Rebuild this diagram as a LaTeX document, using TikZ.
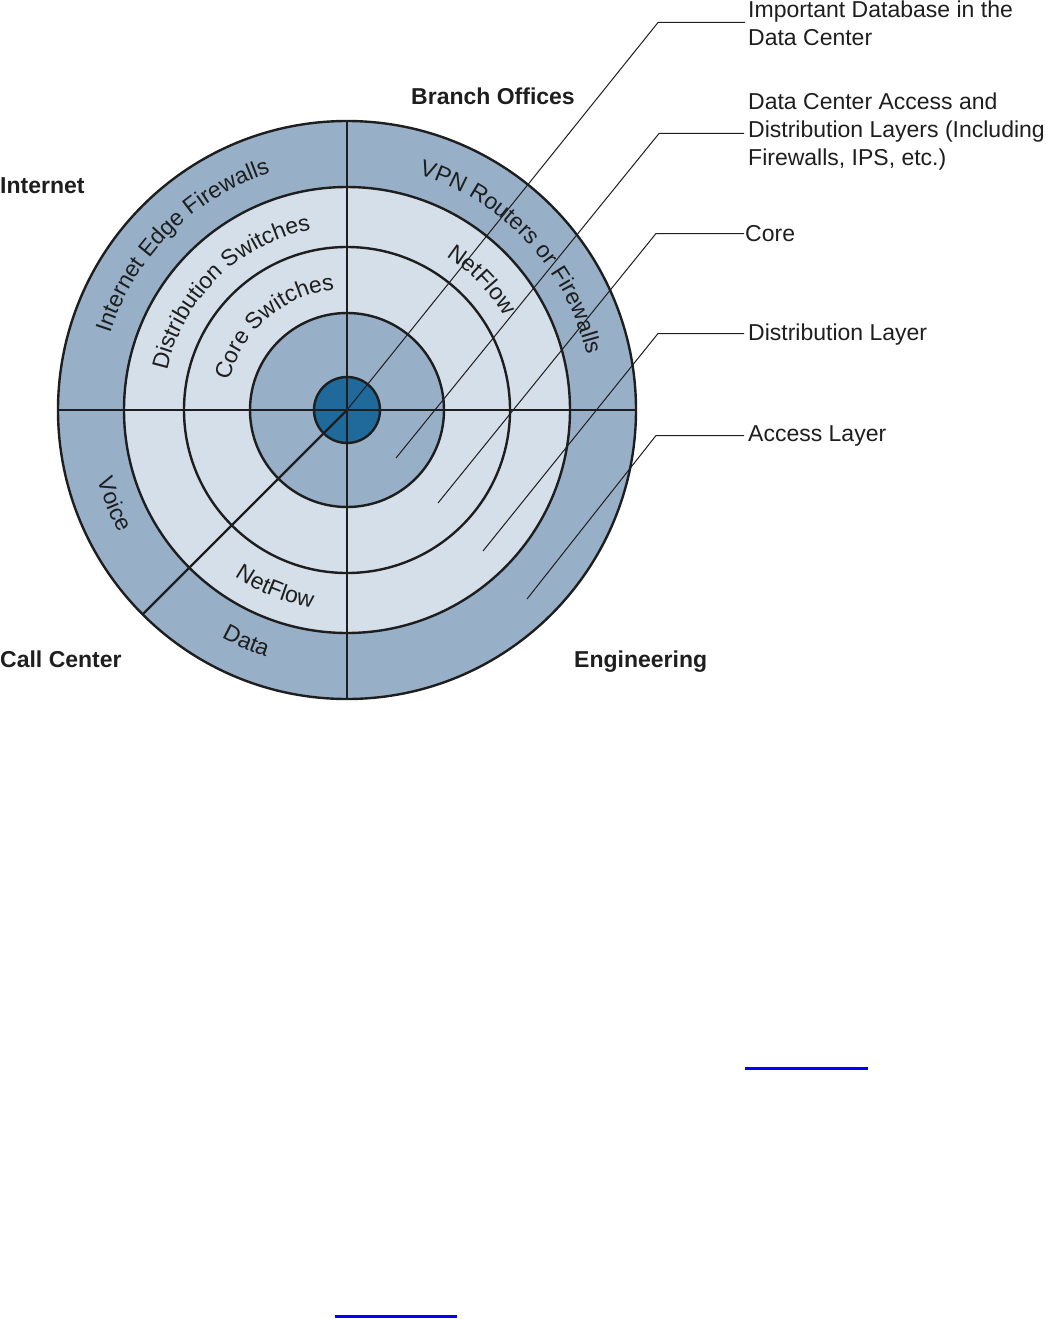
\documentclass[tikz,border=0pt]{standalone}
\usepackage{fontspec}
\setmainfont{Liberation Sans}
\usetikzlibrary{decorations.text}
\definecolor{midblue}{RGB}{151,176,200}
\definecolor{lightblue}{RGB}{213,223,233}
\definecolor{darkblue}{RGB}{31,106,155}
\definecolor{ink}{RGB}{30,30,30}
\definecolor{linkblue}{RGB}{0,0,255}
\newcommand\ringfont{\fontsize{23}{23}\selectfont\color{ink}}
\begin{document}
\begin{tikzpicture}[x=1pt,y=1pt,
  ring/.style={circle, draw=ink, line width=2.4pt, inner sep=0pt, outer sep=0pt, minimum size=#1},
  divider/.style={draw=ink, line width=2.4pt},
  leader/.style={draw=ink, line width=1pt},
  zone/.style={font=\fontsize{23}{28}\selectfont\bfseries, text=ink, inner sep=0pt, anchor=base west},
  layer/.style={font=\fontsize{23}{28}\selectfont, text=ink, inner sep=0pt, align=left, anchor=north west},
  linkline/.style={draw=linkblue, line width=2.2pt},
]
\useasboundingbox (0,0) rectangle (1045,-1319);
\coordinate (C) at (347,-410);
% rings
\node[ring=578, fill=midblue] (r4) at (C) {};
\node[ring=446, fill=lightblue] (r3) at (C) {};
\node[ring=326] (r2) at (C) {};
\node[ring=194, fill=midblue] (r1) at (C) {};
\node[ring=66, fill=darkblue] (r0) at (C) {};
% dividers
\draw[divider] (r4.north) -- (r4.south);
\draw[divider] (r4.west) -- (r4.east);
\draw[divider] (C) -- (r4.225);
% ring texts
\path[decorate, decoration={text along path, text align=center, text={|\ringfont|Internet Edge Firewalls}}]
  (C) ++(180:249) arc[start angle=180, end angle=90, radius=249];
\path[decorate, decoration={text along path, text align=center, text={|\ringfont|Distribution Switches}}]
  (C) ++(180:184) arc[start angle=180, end angle=89, radius=184];
\path[decorate, decoration={text along path, text align=center, text={|\ringfont|Core Switches}}]
  (C) ++(176:121) arc[start angle=176, end angle=86, radius=121];
\path[decorate, decoration={text along path, text align=center, text={|\ringfont|VPN Routers or Firewalls}}]
  (C) ++(88:246) arc[start angle=88, end angle=-2, radius=246];
\path[decorate, decoration={text along path, text align=center, text={|\ringfont|NetFlow}}]
  (C) ++(84:183) arc[start angle=84, end angle=4, radius=183];
\path[decorate, decoration={text along path, text align=center, text={|\ringfont|Voice}}]
  (C) ++(172:259) arc[start angle=172, end angle=232, radius=259];
\path[decorate, decoration={text along path, text align=center, text={|\ringfont|NetFlow}}]
  (C) ++(213:201) arc[start angle=213, end angle=283, radius=201];
\path[decorate, decoration={text along path, text align=center, text={|\ringfont|Data}}]
  (C) ++(221:260) arc[start angle=221, end angle=272, radius=260];
% zone labels
\node[zone] (branch) at (411,-105) {Branch Offices};
\node[zone] (internet) at (0,-193) {Internet};
\node[zone] (callc) at (0,-667) {Call Center};
\node[zone] (eng) at (574,-667) {Engineering};
% layer labels
\node[layer] (dbl) at (748,-0.5) {Important Database in the\\Data Center};
\node[layer] (dcl) at (748,-92.5) {Data Center Access and\\Distribution Layers (Including\\Firewalls, IPS, etc.)};
\node[zone, font=\fontsize{23}{28}\selectfont] (corel) at (745,-241) {Core};
\node[zone, font=\fontsize{23}{28}\selectfont] (distl) at (748,-340) {Distribution Layer};
\node[zone, font=\fontsize{23}{28}\selectfont] (accl) at (748,-441) {Access Layer};
% leader lines
\coordinate (k1) at (658,-22.5);
\coordinate (k2) at (659,-133.5);
\coordinate (k3) at (656,-233.5);
\coordinate (k4) at (658,-333.5);
\coordinate (k5) at (656,-435.5);
\coordinate (e2) at (396,-458);
\coordinate (e3) at (438,-503);
\coordinate (e4) at (483,-551);
\coordinate (e5) at (527,-599);
\draw[leader] ([xshift=-3pt]dbl.west |- k1) -- (k1) -- (C);
\draw[leader] ([xshift=-4pt]dcl.west |- k2) -- (k2) -- (e2);
\draw[leader] ([xshift=-1pt]corel.west |- k3) -- (k3) -- (e3);
\draw[leader] ([xshift=-4pt]distl.west |- k4) -- (k4) -- (e4);
\draw[leader] ([xshift=-4pt]accl.west |- k5) -- (k5) -- (e5);
% link underlines
\coordinate (u1a) at (745,-1068.5);
\coordinate (u1b) at (868,-1068.5);
\coordinate (u2a) at (335,-1316.5);
\coordinate (u2b) at (457,-1316.5);
\draw[linkline] (u1a) -- (u1b);
\draw[linkline] (u2a) -- (u2b);
\end{tikzpicture}
\end{document}
